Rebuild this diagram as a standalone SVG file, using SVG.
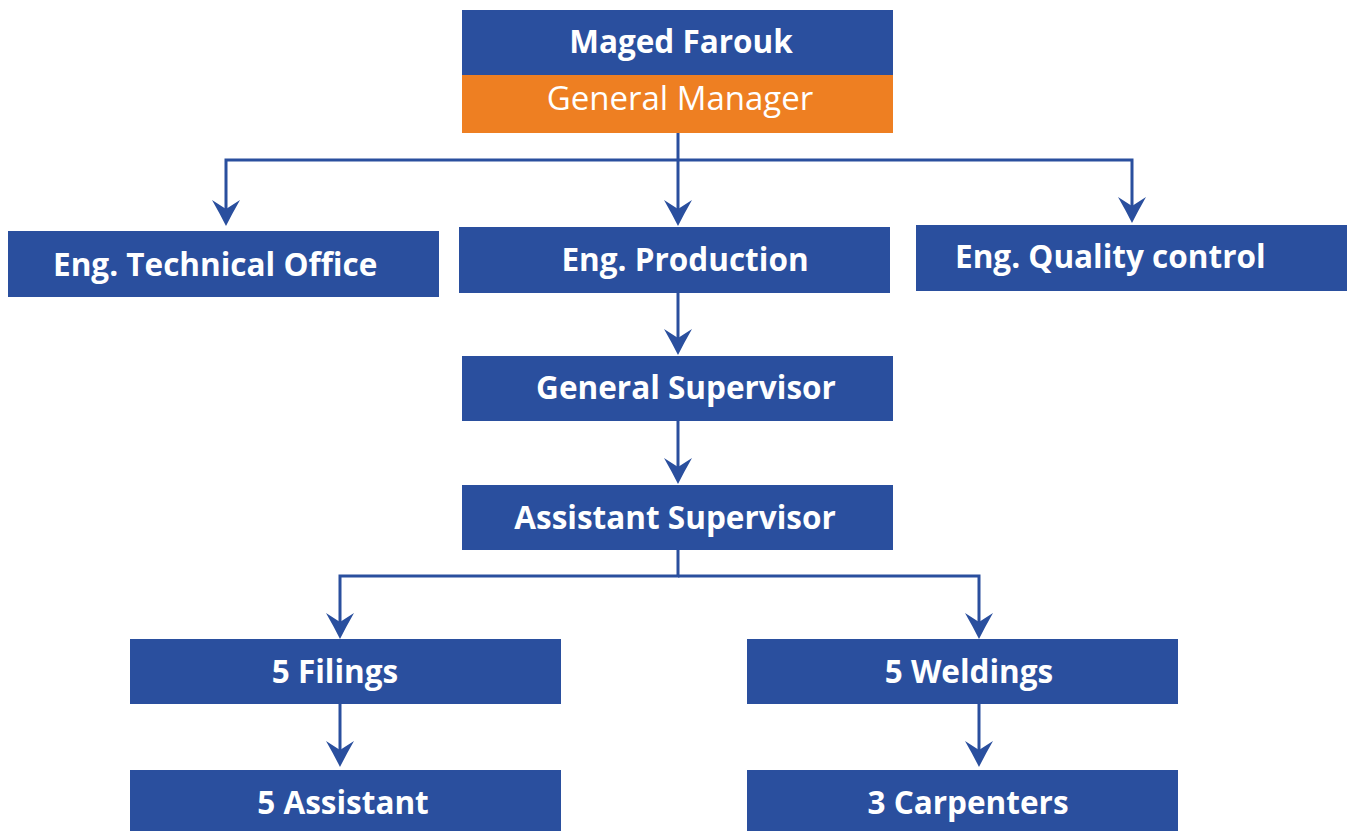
<svg xmlns="http://www.w3.org/2000/svg" width="1350" height="831" viewBox="0 0 1350 831">
<defs>
<style>
.box{fill:#2A4F9E}
.org{fill:#EE7F22}
.t{font-family:"Open Sans","Noto Sans","Liberation Sans",sans-serif;font-weight:700;font-size:31.5px;fill:#ffffff}
.r{font-family:"Open Sans","Noto Sans","Liberation Sans",sans-serif;font-weight:400;font-size:33px;fill:#ffffff}
.c{fill:none;stroke:#2A4F9E;stroke-width:3}
</style>
<marker id="ah" viewBox="-1 -15 28 30" refX="16" refY="0" markerWidth="28" markerHeight="30" markerUnits="userSpaceOnUse" orient="auto">
<path d="M0,-14 Q14,-6 26,0 Q14,6 0,14 L9,0 Z" fill="#2A4F9E"/>
</marker>
</defs>
<rect width="1350" height="831" fill="#ffffff"/>
<g id="connectors">
<path class="c" d="M678,132 V216" marker-end="url(#ah)"/>
<path class="c" d="M678,160 H226 V216" marker-end="url(#ah)"/>
<path class="c" d="M678,160 H1132 V213" marker-end="url(#ah)"/>
<path class="c" d="M678,292 V345" marker-end="url(#ah)"/>
<path class="c" d="M678,421 V474" marker-end="url(#ah)"/>
<path class="c" d="M678,550 V576 H340 V629" marker-end="url(#ah)"/>
<path class="c" d="M678,576 H979 V629" marker-end="url(#ah)"/>
<path class="c" d="M340,704 V757" marker-end="url(#ah)"/>
<path class="c" d="M979,704 V757" marker-end="url(#ah)"/>
</g>
<g id="gm">
<rect class="box" x="462" y="10" width="431" height="65"/>
<rect class="org" x="462" y="75" width="431" height="58"/>
<text class="t" x="681" y="53" text-anchor="middle">Maged Farouk</text>
<text class="r" x="680" y="110" text-anchor="middle">General Manager</text>
</g>
<g id="tech">
<rect class="box" x="8" y="231" width="431" height="66"/>
<text class="t" x="53" y="276">Eng. Technical Office</text>
</g>
<g id="prod">
<rect class="box" x="459" y="227" width="431" height="66"/>
<text class="t" x="685" y="271" text-anchor="middle">Eng. Production</text>
</g>
<g id="qc">
<rect class="box" x="916" y="225" width="431" height="66"/>
<text class="t" x="955" y="268">Eng. Quality control</text>
</g>
<g id="gs">
<rect class="box" x="462" y="356" width="431" height="65"/>
<text class="t" x="686" y="399" text-anchor="middle">General Supervisor</text>
</g>
<g id="as">
<rect class="box" x="462" y="485" width="431" height="65"/>
<text class="t" x="675" y="529" text-anchor="middle">Assistant Supervisor</text>
</g>
<g id="filings">
<rect class="box" x="130" y="639" width="431" height="65"/>
<text class="t" x="335" y="683" text-anchor="middle">5 Filings</text>
</g>
<g id="assistant">
<rect class="box" x="130" y="770" width="431" height="61"/>
<text class="t" x="343" y="814" text-anchor="middle">5 Assistant</text>
</g>
<g id="weldings">
<rect class="box" x="747" y="639" width="431" height="65"/>
<text class="t" x="969" y="683" text-anchor="middle">5 Weldings</text>
</g>
<g id="carpenters">
<rect class="box" x="747" y="770" width="431" height="61"/>
<text class="t" x="968" y="814" text-anchor="middle">3 Carpenters</text>
</g>
</svg>
